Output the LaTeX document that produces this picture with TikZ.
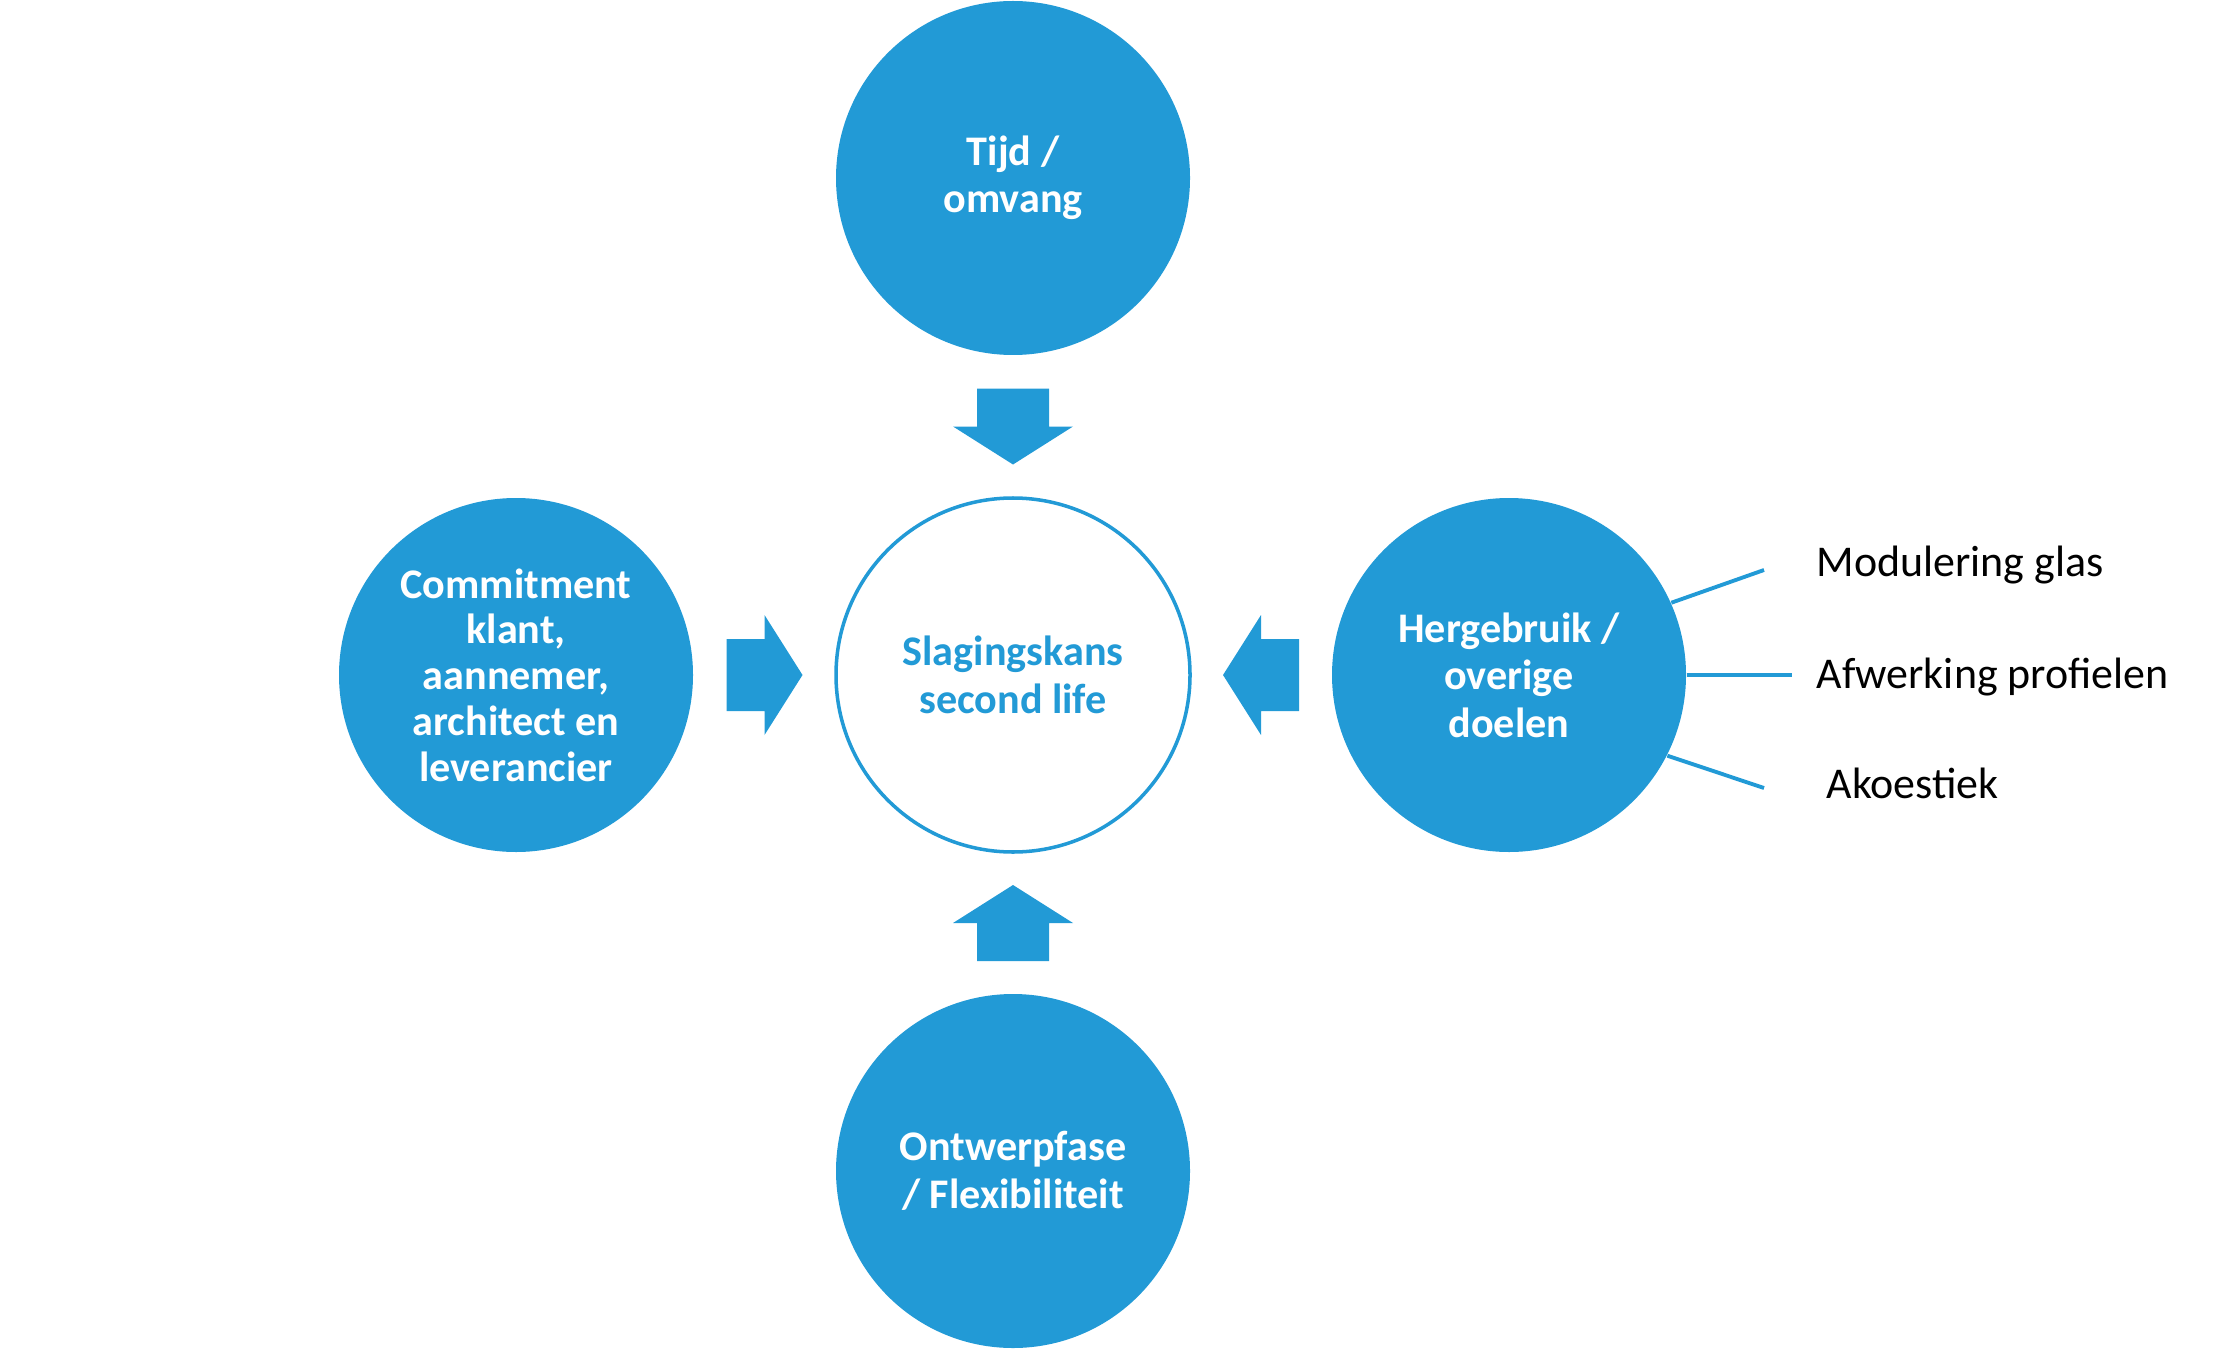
\documentclass[tikz,border=0pt]{standalone}
\usepackage{fontspec}
\setmainfont{Carlito}
\usetikzlibrary{calc}
\definecolor{cblue}{HTML}{229AD6}
\tikzset{
  every picture/.style={font=\fontsize{12}{14}\selectfont},
  disc/.style={circle, fill=cblue, minimum size=3.54cm, inner sep=2pt, align=center, text=white, font=\bfseries\fontsize{12}{13.5}\selectfont},
  hub/.style={disc, fill=white, draw=cblue, line width=1pt, text=cblue},
  spoke/.style={draw=cblue, line width=1.1pt},
  item/.style={anchor=base west, inner sep=0pt, font=\fontsize{12.5}{14}\selectfont},
  blockarrow/.pic={\fill[cblue] (-0.38,-0.36) -- (0,-0.36) -- (0,-0.6) -- (0.38,0) -- (0,0.6) -- (0,0.36) -- (-0.38,0.36) -- cycle;},
}

\begin{document}
\begin{tikzpicture}
  \useasboundingbox (0,0) rectangle (22.18,13.5);
  \node[hub] (mid) at (10.13,6.75) {Slagingskans\\second life};
  \node[disc] (top) at (10.13,11.72) {Tijd /\\omvang};
  \node[disc] (bot) at (10.13,1.79) {Ontwerpfase\\/ Flexibiliteit};
  \node[disc, font=\bfseries\fontsize{12}{13}\selectfont] (lft) at (5.16,6.75) {Commitment\\klant,\\aannemer,\\architect en\\leverancier};
  \node[disc] (rgt) at (15.09,6.75) {Hergebruik /\\overige\\doelen};
  % block arrows towards the centre
  \pic[rotate=-90] at ($(top)!0.5!(mid)$) {blockarrow};
  \pic[rotate=90] at ($(bot)!0.5!(mid)$) {blockarrow};
  \pic at ($(lft)!0.5!(mid)$) {blockarrow};
  \pic[rotate=180] at ($(rgt)!0.5!(mid)$) {blockarrow};
  % sub goals
  \node[item] (glas) at (18.16,7.733) {Modulering glas};
  \node[item] (prof) at (18.16,6.617) {Afwerking profielen};
  \node[item] (akoe) at (18.26,5.517) {Akoestiek};
  \coordinate (e1) at (17.64,7.80);
  \coordinate (e2) at (17.92,6.75);
  \coordinate (e3) at (17.64,5.62);
  \draw[spoke] (rgt.24) -- (e1);
  \draw[spoke] (rgt.east) -- (e2);
  \draw[spoke] (rgt.-27) -- (e3);
\end{tikzpicture}
\end{document}
